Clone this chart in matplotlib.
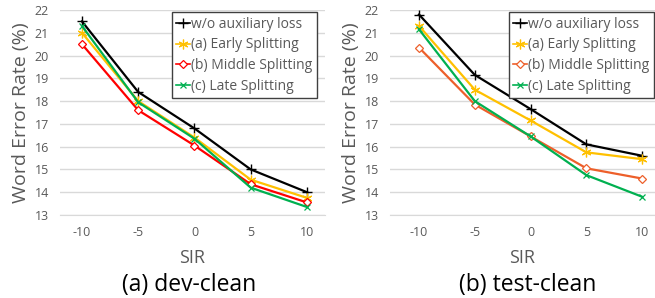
import numpy as np
import matplotlib.pyplot as plt

plt.rcParams['font.family'] = ['Open Sans', 'DejaVu Sans']

sir = ['-10', '-5', '0', '5', '10']
labels = ['w/o auxiliary loss', '(a) Early Splitting',
          '(b) Middle Splitting', '(c) Late Splitting']

# dev-clean
dev_wo = [21.5, 18.4, 16.8, 15.0, 14.0]
dev_early = [21.0, 18.0, 16.4, 14.55, 13.75]
dev_middle = [20.5, 17.6, 16.05, 14.35, 13.55]
dev_late = [21.3, 17.95, 16.35, 14.2, 13.35]

# test-clean
test_wo = [21.8, 19.15, 17.65, 16.1, 15.6]
test_early = [21.3, 18.5, 17.15, 15.75, 15.45]
test_middle = [20.35, 17.85, 16.45, 15.05, 14.6]
test_late = [21.15, 18.0, 16.45, 14.75, 13.8]

gray = '#595959'
asterisk = (6, 2, 0)


def panel(ax, series, colors, xlim, title, title_x):
    x = np.arange(len(sir))
    styles = [dict(marker='+', ms=7, mew=1.0),
              dict(marker=asterisk, ms=7, mew=0.9),
              dict(marker='D', ms=4.5, mfc='white', mew=0.9),
              dict(marker='x', ms=5, mew=0.9)]
    for y, c, lab, st in zip(series, colors, labels, styles):
        ax.plot(x, y, color=c, lw=1.6, label=lab, **st)
    ax.set_xlim(*xlim)
    ax.set_ylim(13, 22)
    ax.set_yticks(range(13, 23))
    ax.set_xticks(x)
    ax.set_xticklabels(sir)
    ax.grid(axis='y', color='#d9d9d9', lw=1)
    ax.set_axisbelow(True)
    for s in ['top', 'right', 'left']:
        ax.spines[s].set_visible(False)
    ax.spines['bottom'].set_color('#d9d9d9')
    ax.tick_params(length=0, colors=gray, labelsize=9, pad=8)
    ax.set_ylabel('Word Error Rate (%)', color=gray, fontsize=14, labelpad=3)
    ax.set_xlabel('SIR', color=gray, fontsize=13, labelpad=7)
    fig.text(title_x, 1 - 285 / 298, title,
             ha='center', va='center', fontsize=16.5, color='black')
    leg = ax.legend(loc='upper right', bbox_to_anchor=(1.0, 1.0), fontsize=10,
                    handlelength=1.0, handletextpad=0.1, borderpad=0.3,
                    labelspacing=0.42, fancybox=False, framealpha=1,
                    borderaxespad=0.1)
    leg.get_frame().set_edgecolor('#404040')
    leg.get_frame().set_linewidth(1)
    for ln in leg.get_lines():
        ln.set_linewidth(1.2)
    for t in leg.get_texts():
        t.set_color(gray)
    return leg


fig = plt.figure(figsize=(6.55, 2.98), dpi=100)
ax1 = fig.add_axes([60 / 655, 83 / 298, 265 / 655, 205 / 298])
ax2 = fig.add_axes([390 / 655, 83 / 298, 265 / 655, 205 / 298])

leg1 = panel(ax1, [dev_wo, dev_early, dev_middle, dev_late],
             ['black', '#ffc000', '#ff0000', '#00b050'], (-0.39, 4.32),
             '(a) dev-clean', 189 / 655)
leg1.set_bbox_to_anchor((318 / 655, 1 - 11 / 298), transform=fig.transFigure)
leg2 = panel(ax2, [test_wo, test_early, test_middle, test_late],
             ['black', '#ffc000', '#ed5f2a', '#00b050'], (-0.52, 4.23),
             '(b) test-clean', 528 / 655)
leg2.set_bbox_to_anchor((1.0, 1 - 11 / 298), transform=fig.transFigure)

fig.savefig('out.png', dpi=100)
